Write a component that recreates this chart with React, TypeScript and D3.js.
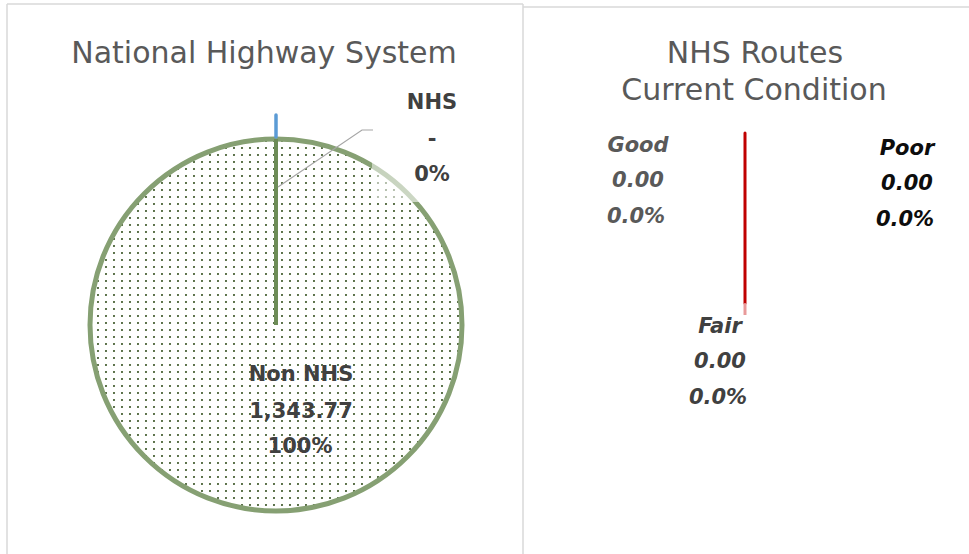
import React from "react";
import * as d3 from "d3";

const systemCategories = ["NHS", "Non NHS"];
const systemValues = [0, 1343.77];
const systemValueLabels = ["-", "1,343.77"];
const systemPctLabels = ["0%", "100%"];

const conditionCategories = ["Good", "Fair", "Poor"];
const conditionValues = [0.0, 0.0, 0.0];
const conditionPctLabels = ["0.0%", "0.0%", "0.0%"];

const W = 969;
const H = 554;

export default function App() {
  // Left pie
  const cx = 276;
  const cy = 325;
  const r = 186;
  const pie = d3.pie<number>().sort(null).value((d) => d);
  const arcs = pie(systemValues);
  const arcGen = d3.arc<d3.PieArcDatum<number>>().innerRadius(0).outerRadius(r);
  const pt = (a: number, rad: number) => [cx + Math.sin(a) * rad, cy - Math.cos(a) * rad];
  const nhsArc = arcs[0];
  const nonArc = arcs[1];
  const [bx1, by1] = pt(nhsArc.startAngle, r + 2);
  const [bx2, by2] = pt(nhsArc.startAngle, r + 24);
  const [sx1, sy1] = pt(nonArc.startAngle, 0);
  const [sx2, sy2] = pt(nonArc.startAngle, r);
  const [lx, ly] = pt(nhsArc.startAngle, r);

  // Right chart
  const rcx = 745;
  const rcy = 224;
  const rr = 91;
  const cPie = pie(conditionValues);
  const allZero = d3.sum(conditionValues) === 0;
  const yScale = d3.scaleLinear().domain([-1, 1]).range([rcy - rr, rcy + rr]);

  const titleStyle: React.CSSProperties = {
    fontFamily: "DejaVu Sans, sans-serif",
    fontSize: 30,
    fill: "#595959",
  };
  const leftLabelStyle: React.CSSProperties = {
    fontFamily: "DejaVu Sans, sans-serif",
    fontWeight: 700,
    fontSize: 21,
    fill: "#404040",
  };
  const condStyle = (fill: string): React.CSSProperties => ({
    fontFamily: "DejaVu Sans, sans-serif",
    fontWeight: 700,
    fontStyle: "italic",
    fontSize: 21,
    fill,
  });

  const condPos = [
    { x: 638, y: 152, fill: "#595959" },
    { x: 720, y: 333, fill: "#404040" },
    { x: 907, y: 155, fill: "#0d0d0d" },
  ];

  return (
    <svg
      width={W}
      height={H}
      style={{ position: "absolute", left: 0, top: 0, background: "#fff" }}
    >
      <defs>
        <pattern id="dots" width={8} height={7} patternUnits="userSpaceOnUse" x={cx} y={cy}>
          <rect width={8} height={7} fill="#ffffff" />
          <circle cx={2} cy={2} r={1.05} fill="#34501f" />
        </pattern>
        <linearGradient id="fade" x1="0" y1="0" x2="1" y2="1">
          <stop offset="0" stopColor="#ffffff" stopOpacity={0.45} />
          <stop offset="1" stopColor="#ffffff" stopOpacity={0.65} />
        </linearGradient>
      </defs>

      {/* panel borders */}
      <line x1={7} y1={4} x2={7} y2={H} stroke="#d9d9d9" strokeWidth={1.5} />
      <line x1={7} y1={4} x2={523} y2={4} stroke="#d9d9d9" strokeWidth={1.5} />
      <line x1={523} y1={4} x2={523} y2={H} stroke="#d9d9d9" strokeWidth={1.5} />
      <line x1={523} y1={7} x2={W} y2={7} stroke="#d9d9d9" strokeWidth={1.5} />

      {/* titles */}
      <text x={264} y={63} textAnchor="middle" style={titleStyle}>
        National Highway System
      </text>
      <text x={755} y={63} textAnchor="middle" style={titleStyle}>
        NHS Routes
      </text>
      <text x={754} y={100} textAnchor="middle" style={titleStyle}>
        Current Condition
      </text>

      {/* left pie */}
      <g transform={`translate(${cx},${cy})`}>
        <path d={arcGen(nonArc) || ""} fill="url(#dots)" stroke="#86a073" strokeWidth={5} />
      </g>
      <line x1={sx1} y1={sy1} x2={sx2} y2={sy2} stroke="#6d8c57" strokeWidth={4} />
      <line x1={bx1} y1={by1} x2={bx2} y2={by2} stroke="#5b9bd5" strokeWidth={3.5} strokeLinecap="round" />

      {/* NHS label box (semi-transparent) */}
      <rect x={372} y={86} width={122} height={116} fill="url(#fade)" />
      <polyline
        points={`${lx + 2},${ly + 48} 362,130 373,130`}
        fill="none"
        stroke="#a6a6a6"
        strokeWidth={1.2}
      />
      <text x={432} y={109} textAnchor="middle" style={leftLabelStyle}>
        {systemCategories[0]}
      </text>
      <text x={432} y={146} textAnchor="middle" style={leftLabelStyle}>
        {systemValueLabels[0]}
      </text>
      <text x={432} y={181} textAnchor="middle" style={leftLabelStyle}>
        {systemPctLabels[0]}
      </text>

      <text x={301} y={381} textAnchor="middle" style={leftLabelStyle}>
        {systemCategories[1]}
      </text>
      <text x={301} y={418} textAnchor="middle" style={leftLabelStyle}>
        {systemValueLabels[1]}
      </text>
      <text x={300} y={453} textAnchor="middle" style={leftLabelStyle}>
        {systemPctLabels[1]}
      </text>

      {/* right chart: zero-valued slices collapse to a line */}
      {allZero && (
        <g>
          <line
            x1={rcx}
            y1={yScale(-1)}
            x2={rcx}
            y2={yScale(0.87)}
            stroke="#c00000"
            strokeWidth={3}
            strokeLinecap="round"
          />
          <line
            x1={rcx}
            y1={yScale(0.87)}
            x2={rcx}
            y2={yScale(1)}
            stroke="#e89a9a"
            strokeWidth={3}
          />
        </g>
      )}
      {cPie.map((d, i) => {
        const p = condPos[i];
        return (
          <g key={conditionCategories[i]}>
            <text x={p.x} y={p.y} textAnchor="middle" style={condStyle(p.fill)}>
              {conditionCategories[i]}
            </text>
            <text x={p.x} y={p.y + 35} textAnchor="middle" style={condStyle(p.fill)}>
              {d.data.toFixed(2)}
            </text>
            <text x={p.x - 2} y={p.y + 71} textAnchor="middle" style={condStyle(p.fill)}>
              {conditionPctLabels[i]}
            </text>
          </g>
        );
      })}
    </svg>
  );
}
